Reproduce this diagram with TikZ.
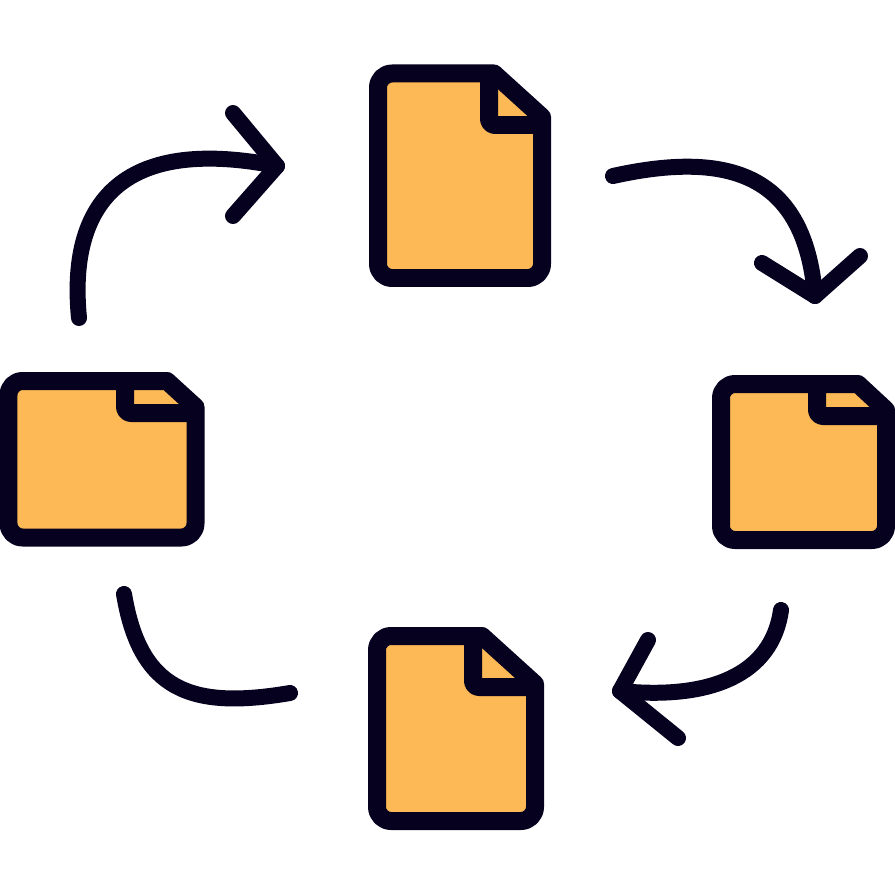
\documentclass[tikz,border=0pt]{standalone}
\usepackage{tikz}

\definecolor{inkline}{HTML}{05011F}
\definecolor{docfill}{HTML}{FDB955}

\tikzset{
	docline/.style={draw=inkline,line width=0.36cm,line join=round},
	flowline/.style={draw=inkline,line width=0.32cm,line cap=round,line join=round}
}

% left, top, right, bottom, fold x, fold y, end of top edge, start of right edge
\newcommand{\docicon}[8]{
	\draw[docline,fill=docfill] (#7,#2) [rounded corners=0.28cm] -- (#1,#2) -- (#1,#4) -- (#3,#4) [sharp corners] -- (#3,#8) -- cycle;
	\draw[docline,rounded corners=0.12cm] (#5,#2) -- (#5,#6) -- (#3,#6);
}

\begin{document}
\begin{tikzpicture}[x=0.02cm,y=-0.02cm]
	\useasboundingbox (0,0) rectangle (895,895);

	\docicon{378}{73.5}{542}{278}{489}{125}{494}{117}
	\docicon{8.5}{381}{195.5}{537.5}{125}{413}{167}{407}
	\docicon{721}{384}{886}{540}{817}{416}{858}{410}
	\docicon{377}{636}{535}{821}{473}{687}{482}{684}

	\coordinate (leftstart) at (79,318);
	\coordinate (topin) at (277,166);
	\coordinate (topout) at (613,176);
	\coordinate (rightin) at (815,296);
	\coordinate (rightout) at (781,610);
	\coordinate (bottomin) at (620,691);
	\coordinate (bottomout) at (290,693);
	\coordinate (leftin) at (124,594);

	% vom linken Blatt nach oben
	\draw[flowline] (leftstart) .. controls (68,205) and (120,135) .. (topin);
	\draw[flowline] (233,113) -- (topin) -- (233,216);
	% oben nach rechts
	\draw[flowline] (topout) .. controls (730,150) and (805,175) .. (rightin);
	\draw[flowline] (762,263) -- (rightin) -- (860,256);
	% rechts nach unten
	\draw[flowline] (rightout) .. controls (772,675) and (710,700) .. (bottomin);
	\draw[flowline] (648,640) -- (bottomin) -- (678,738);
	% unten nach links, ohne Spitze
	\draw[flowline] (bottomout) .. controls (190,710) and (140,690) .. (leftin);
\end{tikzpicture}
\end{document}
